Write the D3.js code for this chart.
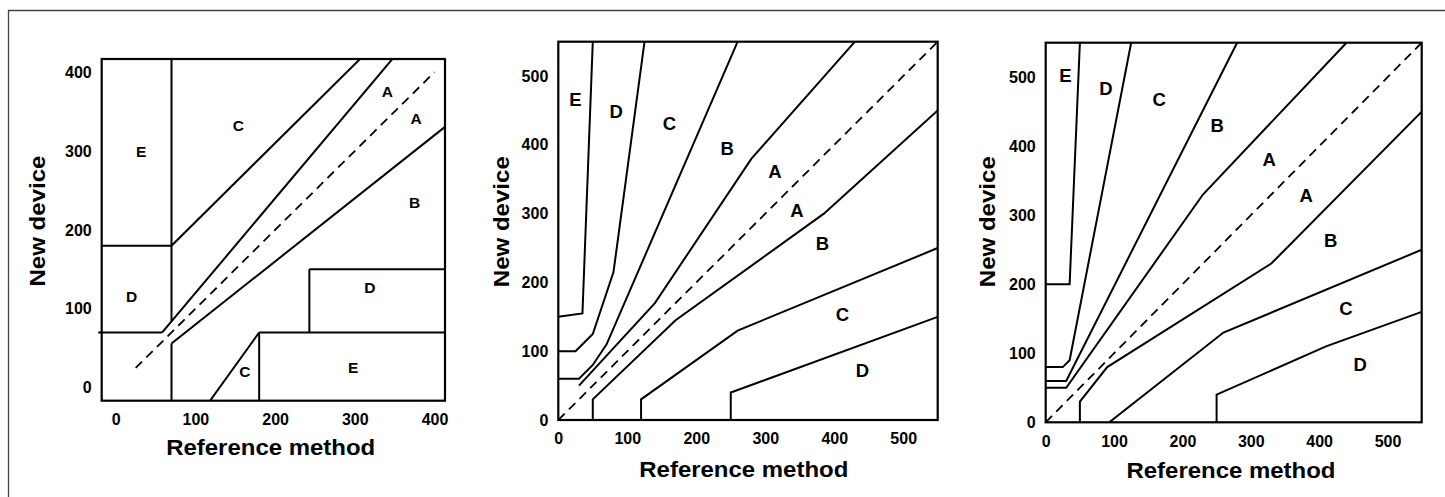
<!DOCTYPE html>
<html>
<head>
<meta charset="utf-8">
<script src="https://cdn.jsdelivr.net/npm/d3@7"></script>
<style>
  html, body { margin: 0; padding: 0; background: #fff; }
  svg { display: block; }
  text { font-family: "Liberation Sans", Arial, Helvetica, sans-serif; font-weight: bold; fill: #000; }
</style>
</head>
<body>
<svg id="chart" width="1445" height="497"></svg>
<script>
// ---------------- DATA ----------------
// Panel 1: Clarke error grid (mg/dL)
const clarkeTicks = [0, 100, 200, 300, 400];
const clarkeZoneLines = [
  [[70, 180], [520, 630]],          // upper C boundary (y = x + 110)
  [[58.33, 70], [520, 624]],        // upper A boundary (y = 1.2x)
  [[70, 56], [520, 416]],           // lower A boundary (y = 0.8x)
  [[70, 84], [70, 520]],            // vertical x = 70 (upper)
  [[70, -60], [70, 56]],            // vertical x = 70 (lower)
  [[-60, 180], [70, 180]],          // E / D boundary
  [[180, 70], [520, 70]],           // lower E top
  [[180, -60], [180, 70]],          // lower E left
  [[243, 70], [243, 150]],          // lower D left
  [[243, 150], [520, 150]],         // lower D top
  [[88, -59.2], [180, 70]]          // lower C boundary
];
const clarkeOpenLines = [
  [[-22, 70], [58.33, 70]]          // left horizontal at y = 70
];
const clarkeIdentity = [[25, 25], [400, 400]];
const clarkeLabels = ["E", "C", "A", "A", "B", "D", "D", "E", "C"];
const clarkeLabelX = [32, 154, 341, 377, 375, 319, 20, 298, 162];
const clarkeLabelY = [299, 332, 376, 341, 235, 127, 115, 26, 20];

// Panel 2: Parkes error grid, type 1
const parkesTicks = [0, 100, 200, 300, 400, 500];
const parkes1Lines = [
  [[0, 150], [35, 155], [50, 550]],
  [[0, 100], [25, 100], [50, 125], [80, 215], [125, 550]],
  [[0, 60], [30, 60], [50, 80], [70, 110], [260, 550]],
  [[30, 50], [140, 170], [280, 380], [430, 550]],
  [[50, 0], [50, 30], [170, 145], [385, 300], [550, 450]],
  [[120, 0], [120, 30], [260, 130], [550, 250]],
  [[250, 0], [250, 40], [550, 150]]
];
const parkes1Labels = ["E", "D", "C", "B", "A", "A", "B", "C", "D"];
const parkes1LabelX = [25, 84, 161, 245, 314, 346, 383, 412, 441];
const parkes1LabelY = [466, 448, 431, 394, 361, 305, 256, 154, 72];

// Panel 3: Parkes error grid, type 2
const parkes2Lines = [
  [[0, 200], [35, 200], [50, 550]],
  [[0, 80], [25, 80], [35, 90], [125, 550]],
  [[0, 60], [30, 60], [280, 550]],
  [[0, 50], [30, 50], [230, 330], [440, 550]],
  [[50, 0], [50, 30], [90, 80], [330, 230], [550, 450]],
  [[93, 0], [260, 130], [550, 250]],
  [[250, 0], [250, 40], [410, 110], [550, 160]]
];
const parkes2Labels = ["E", "D", "C", "B", "A", "A", "B", "C", "D"];
const parkes2LabelX = [29, 88, 166, 251, 327, 381, 417, 439, 460];
const parkes2LabelY = [502, 484, 467, 430, 381, 328, 263, 165, 84];

const parkesIdentity = [[0, 0], [550, 550]];
const xTitle = "Reference method";
const yTitle = "New device";

// ---------------- LAYOUT ----------------
const svg = d3.select("#chart");

// outer figure frame (left + top edges visible)
svg.append("path")
  .attr("d", "M8.5,497 V10.5 H1445")
  .attr("fill", "none").attr("stroke", "#444").attr("stroke-width", 1.3);

const panels = [
  {
    id: "p1", left: 101.7, top: 59, right: 445, bottom: 400.7,
    xDom: [-17.6, 413.2], yDom: [-16.5, 416.6], ticks: clarkeTicks,
    lines: clarkeZoneLines, open: clarkeOpenLines, ident: clarkeIdentity,
    labels: clarkeLabels, lx: clarkeLabelX, ly: clarkeLabelY, labelSize: 15.5,
    xTitleX: 270.7, xTitleY: 454.5, yTitleX: 45, yTitleY: 221
  },
  {
    id: "p2", left: 558.3, top: 41.7, right: 937.7, bottom: 420,
    xDom: [0, 550], yDom: [0, 550], ticks: parkesTicks,
    lines: parkes1Lines, open: [], ident: parkesIdentity,
    labels: parkes1Labels, lx: parkes1LabelX, ly: parkes1LabelY, labelSize: 18.5,
    xTitleX: 743.8, xTitleY: 476.7, yTitleX: 509.3, yTitleY: 221.7
  },
  {
    id: "p3", left: 1045.7, top: 42.7, right: 1421.7, bottom: 422.3,
    xDom: [0, 550], yDom: [0, 550], ticks: parkesTicks,
    lines: parkes2Lines, open: [], ident: parkesIdentity,
    labels: parkes2Labels, lx: parkes2LabelX, ly: parkes2LabelY, labelSize: 18.5,
    xTitleX: 1231, xTitleY: 477.5, yTitleX: 995, yTitleY: 221.7
  }
];

panels.forEach(p => {
  const x = d3.scaleLinear().domain(p.xDom).range([p.left, p.right]);
  const y = d3.scaleLinear().domain(p.yDom).range([p.bottom, p.top]);
  const line = d3.line().x(d => x(d[0])).y(d => y(d[1]));

  const clipId = "clip-" + p.id;
  svg.append("clipPath").attr("id", clipId)
    .append("rect")
    .attr("x", p.left).attr("y", p.top)
    .attr("width", p.right - p.left).attr("height", p.bottom - p.top);

  const g = svg.append("g");
  const inner = g.append("g").attr("clip-path", `url(#${clipId})`);

  // identity dashed line
  inner.append("path")
    .attr("d", line(p.ident))
    .attr("fill", "none").attr("stroke", "#000")
    .attr("stroke-width", 1.8).attr("stroke-dasharray", "9,6");

  // zone boundaries
  inner.selectAll("path.zone").data(p.lines).join("path")
    .attr("class", "zone")
    .attr("d", line)
    .attr("fill", "none").attr("stroke", "#000")
    .attr("stroke-width", 2).attr("stroke-linejoin", "miter");

  g.selectAll("path.open").data(p.open).join("path")
    .attr("class", "open")
    .attr("d", line)
    .attr("fill", "none").attr("stroke", "#000").attr("stroke-width", 2);

  // frame
  g.append("rect")
    .attr("x", p.left).attr("y", p.top)
    .attr("width", p.right - p.left).attr("height", p.bottom - p.top)
    .attr("fill", "none").attr("stroke", "#000").attr("stroke-width", 2.2);

  // zone labels
  g.selectAll("text.zl").data(p.labels).join("text")
    .attr("class", "zl")
    .attr("x", (d, i) => x(p.lx[i]))
    .attr("y", (d, i) => y(p.ly[i]))
    .attr("text-anchor", "middle")
    .attr("dominant-baseline", "central")
    .style("font-size", p.labelSize + "px")
    .text(d => d);

  // axes
  const xAxis = g.append("g")
    .attr("transform", `translate(0,${p.bottom})`)
    .call(d3.axisBottom(x).tickValues(p.ticks).tickSize(0).tickPadding(13).tickFormat(d3.format("d")));
  const yAxis = g.append("g")
    .attr("transform", `translate(${p.left},0)`)
    .call(d3.axisLeft(y).tickValues(p.ticks).tickSize(0).tickPadding(10).tickFormat(d3.format("d")));
  [xAxis, yAxis].forEach(a => {
    a.select(".domain").remove();
    a.selectAll("text")
      .style("font-family", '"Liberation Sans", Arial, sans-serif')
      .style("font-weight", "bold")
      .style("font-size", "16px")
      .attr("fill", "#000");
  });

  // axis titles
  g.append("text")
    .attr("x", p.xTitleX).attr("y", p.xTitleY)
    .attr("text-anchor", "middle")
    .attr("textLength", 209).attr("lengthAdjust", "spacingAndGlyphs")
    .style("font-size", "22px")
    .text(xTitle);
  g.append("text")
    .attr("transform", `translate(${p.yTitleX},${p.yTitleY}) rotate(-90)`)
    .attr("text-anchor", "middle")
    .attr("textLength", 131).attr("lengthAdjust", "spacingAndGlyphs")
    .style("font-size", "22.5px")
    .text(yTitle);
});
</script>
</body>
</html>
